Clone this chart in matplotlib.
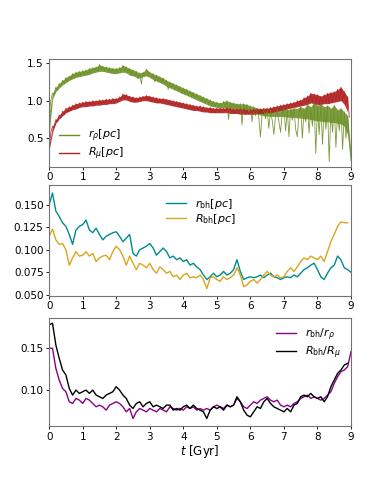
import numpy as np
import matplotlib
matplotlib.use("Agg")
import matplotlib.pyplot as plt

# ---------- DATA ----------
# panel 1: noisy radii, sampled every 0.05 Gyr (spikes included)
r_rho = [0.82, 1.00, 1.10, 1.09, 1.18, 1.14, 1.23, 1.19, 1.27, 1.22,
         1.31, 1.25, 1.33, 1.28, 1.36, 1.30, 1.38, 1.32, 1.39, 1.33,
         1.40, 1.34, 1.41, 1.35, 1.43, 1.36, 1.44, 1.38, 1.45, 1.39,
         1.48, 1.40, 1.46, 1.39, 1.45, 1.38, 1.44, 1.37, 1.43, 1.36,
         1.43, 1.37, 1.44, 1.39, 1.47, 1.39, 1.45, 1.37, 1.43, 1.33,
         1.41, 1.33, 1.39, 1.29, 1.37, 1.22, 1.38, 1.33, 1.42, 1.32,
         1.38, 1.30, 1.36, 1.25, 1.34, 1.26, 1.32, 1.24, 1.30, 1.22,
         1.27, 1.15, 1.25, 1.17, 1.23, 1.15, 1.21, 1.13, 1.19, 1.10,
         1.17, 1.09, 1.15, 1.07, 1.13, 1.05, 1.11, 1.03, 1.09, 1.01,
         1.07, 0.99, 1.05, 0.97, 1.03, 0.95, 1.01, 0.93, 0.99, 0.92,
         0.98, 0.91, 0.97, 0.92, 0.99, 0.92, 1.00, 0.75, 0.98, 0.90,
         0.97, 0.89, 0.96, 0.88, 0.96, 0.68, 0.96, 0.87, 0.95, 0.84,
         0.93, 0.72, 0.92, 0.80, 0.90, 0.78, 0.52, 0.82, 0.89, 0.76,
         0.88, 0.63, 0.87, 0.74, 0.55, 0.80, 0.88, 0.72, 0.58, 0.84,
         0.90, 0.60, 0.88, 0.52, 0.89, 0.74, 0.90, 0.62, 0.52, 0.85,
         0.92, 0.50, 0.88, 0.72, 0.95, 0.57, 0.90, 0.66, 0.98, 0.30,
         0.92, 0.55, 0.95, 0.42, 0.90, 0.62, 0.93, 0.19, 0.88, 0.58,
         0.94, 0.38, 0.87, 0.60, 0.90, 0.35, 0.85, 0.50, 0.80, 0.45,
         0.20]
R_mu = [0.36, 0.58, 0.66, 0.64, 0.75, 0.72, 0.81, 0.77, 0.86, 0.81,
        0.90, 0.85, 0.92, 0.87, 0.94, 0.89, 0.96, 0.90, 0.97, 0.92,
        0.98, 0.93, 0.99, 0.93, 0.99, 0.94, 1.00, 0.94, 1.00, 0.95,
        1.01, 0.95, 1.01, 0.96, 1.02, 0.96, 1.02, 0.97, 1.03, 0.97,
        1.03, 0.99, 1.05, 1.01, 1.09, 1.02, 1.08, 1.01, 1.06, 0.99,
        1.05, 0.98, 1.04, 0.99, 1.05, 1.00, 1.06, 1.01, 1.07, 1.00,
        1.06, 0.99, 1.05, 0.98, 1.04, 0.97, 1.03, 0.97, 1.03, 0.96,
        1.02, 0.95, 1.01, 0.94, 1.00, 0.93, 0.99, 0.92, 0.98, 0.91,
        0.97, 0.90, 0.96, 0.89, 0.95, 0.88, 0.94, 0.87, 0.93, 0.87,
        0.93, 0.86, 0.92, 0.85, 0.91, 0.85, 0.91, 0.84, 0.90, 0.84,
        0.90, 0.84, 0.90, 0.84, 0.90, 0.85, 0.91, 0.84, 0.90, 0.83,
        0.89, 0.83, 0.89, 0.83, 0.89, 0.82, 0.89, 0.82, 0.88, 0.82,
        0.88, 0.82, 0.89, 0.83, 0.89, 0.83, 0.89, 0.83, 0.90, 0.84,
        0.90, 0.84, 0.91, 0.85, 0.92, 0.86, 0.93, 0.87, 0.94, 0.88,
        0.95, 0.89, 0.96, 0.90, 0.97, 0.91, 0.98, 0.92, 1.00, 0.93,
        1.01, 0.94, 1.04, 0.95, 1.06, 0.97, 1.10, 0.98, 1.09, 0.96,
        1.08, 0.95, 1.06, 0.96, 1.08, 0.97, 1.10, 0.96, 1.11, 0.98,
        1.12, 0.99, 1.15, 1.00, 1.18, 1.01, 1.12, 0.95, 1.05, 0.78]

# panel 1: the dense part of each noisy band (lower / upper edge every 0.1 Gyr)
rho_lo = [0.55, 1.02, 1.12, 1.17, 1.21, 1.24, 1.27, 1.29, 1.31, 1.32,
          1.33, 1.34, 1.35, 1.37, 1.38, 1.39, 1.39, 1.38, 1.37, 1.36,
          1.36, 1.37, 1.38, 1.37, 1.34, 1.33, 1.31, 1.30, 1.32, 1.33,
          1.31, 1.28, 1.26, 1.24, 1.22, 1.19, 1.17, 1.15, 1.13, 1.11,
          1.09, 1.07, 1.05, 1.03, 1.01, 0.99, 0.97, 0.95, 0.93, 0.92,
          0.91, 0.90, 0.91, 0.91, 0.90, 0.89, 0.88, 0.87, 0.86, 0.85,
          0.84, 0.83, 0.82, 0.81, 0.80, 0.80, 0.79, 0.79, 0.79, 0.79,
          0.79, 0.78, 0.78, 0.78, 0.77, 0.77, 0.76, 0.76, 0.75, 0.74,
          0.73, 0.73, 0.72, 0.72, 0.71, 0.71, 0.70, 0.69, 0.66, 0.55,
          0.20]
rho_hi = [0.84, 1.10, 1.18, 1.23, 1.27, 1.31, 1.33, 1.36, 1.38, 1.39,
          1.40, 1.41, 1.43, 1.44, 1.45, 1.48, 1.46, 1.45, 1.44, 1.43,
          1.43, 1.44, 1.47, 1.45, 1.43, 1.41, 1.39, 1.37, 1.38, 1.42,
          1.38, 1.36, 1.34, 1.32, 1.30, 1.27, 1.25, 1.23, 1.21, 1.19,
          1.17, 1.15, 1.13, 1.11, 1.09, 1.07, 1.05, 1.03, 1.01, 0.99,
          0.98, 0.97, 0.99, 1.00, 0.98, 0.97, 0.96, 0.96, 0.96, 0.95,
          0.93, 0.92, 0.90, 0.90, 0.89, 0.88, 0.87, 0.88, 0.88, 0.89,
          0.90, 0.88, 0.89, 0.90, 0.90, 0.92, 0.90, 0.95, 0.92, 0.98,
          0.94, 0.96, 0.92, 0.94, 0.90, 0.94, 0.88, 0.90, 0.85, 0.80,
          0.30]
mu_lo = [0.34, 0.58, 0.70, 0.76, 0.80, 0.84, 0.86, 0.88, 0.89, 0.91,
         0.92, 0.92, 0.93, 0.93, 0.94, 0.94, 0.95, 0.95, 0.96, 0.96,
         0.97, 0.99, 1.01, 1.01, 0.99, 0.98, 0.98, 0.99, 1.00, 1.00,
         0.99, 0.98, 0.97, 0.97, 0.96, 0.95, 0.94, 0.93, 0.92, 0.91,
         0.90, 0.89, 0.88, 0.87, 0.87, 0.86, 0.85, 0.85, 0.84, 0.84,
         0.84, 0.84, 0.84, 0.84, 0.83, 0.83, 0.83, 0.82, 0.82, 0.82,
         0.82, 0.82, 0.83, 0.83, 0.83, 0.84, 0.84, 0.85, 0.86, 0.87,
         0.88, 0.89, 0.90, 0.91, 0.92, 0.93, 0.94, 0.95, 0.97, 0.96,
         0.95, 0.95, 0.96, 0.96, 0.97, 0.98, 0.99, 1.00, 0.95, 0.85]
mu_hi = [0.42, 0.66, 0.75, 0.81, 0.86, 0.90, 0.92, 0.94, 0.96, 0.97,
         0.98, 0.99, 0.99, 1.00, 1.00, 1.01, 1.01, 1.02, 1.02, 1.03,
         1.03, 1.05, 1.09, 1.08, 1.06, 1.05, 1.04, 1.05, 1.06, 1.07,
         1.06, 1.05, 1.04, 1.03, 1.03, 1.02, 1.01, 1.00, 0.99, 0.98,
         0.97, 0.96, 0.95, 0.94, 0.93, 0.93, 0.92, 0.91, 0.91, 0.90,
         0.90, 0.90, 0.90, 0.91, 0.90, 0.89, 0.89, 0.89, 0.89, 0.88,
         0.88, 0.89, 0.89, 0.89, 0.90, 0.90, 0.91, 0.92, 0.93, 0.94,
         0.95, 0.96, 0.97, 0.98, 1.00, 1.01, 1.04, 1.06, 1.10, 1.09,
         1.08, 1.06, 1.08, 1.10, 1.11, 1.12, 1.15, 1.18, 1.12, 1.05]

# panel 2: black hole subsystem radii, every 0.1 Gyr
r_bh = [0.150, 0.163, 0.143, 0.137, 0.130, 0.126, 0.117, 0.106, 0.122, 0.126,
        0.128, 0.133, 0.122, 0.119, 0.124, 0.117, 0.111, 0.115, 0.117, 0.119,
        0.120, 0.115, 0.109, 0.113, 0.117, 0.096, 0.093, 0.100, 0.102, 0.104,
        0.107, 0.102, 0.094, 0.098, 0.102, 0.098, 0.091, 0.093, 0.089, 0.091,
        0.087, 0.089, 0.083, 0.085, 0.081, 0.078, 0.072, 0.067, 0.070, 0.074,
        0.070, 0.072, 0.076, 0.072, 0.074, 0.078, 0.089, 0.076, 0.067, 0.069,
        0.070, 0.069, 0.070, 0.072, 0.069, 0.072, 0.074, 0.070, 0.069, 0.067,
        0.069, 0.070, 0.069, 0.072, 0.070, 0.074, 0.078, 0.080, 0.083, 0.085,
        0.078, 0.070, 0.067, 0.074, 0.080, 0.083, 0.093, 0.089, 0.080, 0.078,
        0.075]
R_bh = [0.115, 0.123, 0.111, 0.106, 0.107, 0.100, 0.083, 0.091, 0.098, 0.093,
        0.094, 0.098, 0.093, 0.096, 0.087, 0.091, 0.093, 0.094, 0.089, 0.098,
        0.104, 0.100, 0.093, 0.083, 0.093, 0.085, 0.078, 0.085, 0.083, 0.080,
        0.085, 0.078, 0.074, 0.081, 0.078, 0.074, 0.076, 0.070, 0.072, 0.067,
        0.072, 0.074, 0.069, 0.070, 0.069, 0.072, 0.067, 0.057, 0.069, 0.070,
        0.067, 0.065, 0.070, 0.067, 0.069, 0.072, 0.080, 0.072, 0.059, 0.061,
        0.065, 0.067, 0.063, 0.067, 0.072, 0.076, 0.072, 0.070, 0.072, 0.069,
        0.070, 0.076, 0.080, 0.076, 0.081, 0.087, 0.091, 0.089, 0.093, 0.091,
        0.089, 0.093, 0.087, 0.098, 0.109, 0.117, 0.126, 0.131, 0.130, 0.130]

# panel 3: ratios, every 0.1 Gyr
ratio_r = [0.150, 0.150, 0.126, 0.112, 0.102, 0.098, 0.086, 0.084, 0.090, 0.088,
           0.084, 0.090, 0.088, 0.084, 0.080, 0.082, 0.080, 0.076, 0.082, 0.084,
           0.086, 0.084, 0.080, 0.074, 0.078, 0.066, 0.074, 0.078, 0.076, 0.074,
           0.078, 0.076, 0.074, 0.078, 0.076, 0.074, 0.080, 0.078, 0.076, 0.078,
           0.076, 0.080, 0.078, 0.080, 0.076, 0.078, 0.076, 0.078, 0.076, 0.080,
           0.082, 0.080, 0.078, 0.082, 0.080, 0.082, 0.090, 0.086, 0.080, 0.078,
           0.082, 0.086, 0.084, 0.088, 0.090, 0.092, 0.088, 0.086, 0.088, 0.082,
           0.080, 0.082, 0.080, 0.084, 0.086, 0.090, 0.092, 0.094, 0.090, 0.092,
           0.090, 0.088, 0.090, 0.094, 0.098, 0.108, 0.116, 0.122, 0.124, 0.128,
           0.146]
ratio_R = [0.178, 0.180, 0.154, 0.138, 0.124, 0.118, 0.102, 0.094, 0.100, 0.096,
           0.098, 0.100, 0.096, 0.100, 0.094, 0.092, 0.090, 0.094, 0.096, 0.098,
           0.104, 0.100, 0.094, 0.090, 0.082, 0.078, 0.084, 0.086, 0.080, 0.084,
           0.086, 0.080, 0.082, 0.080, 0.078, 0.082, 0.082, 0.076, 0.078, 0.076,
           0.080, 0.082, 0.078, 0.082, 0.078, 0.076, 0.074, 0.066, 0.076, 0.080,
           0.078, 0.080, 0.076, 0.082, 0.080, 0.082, 0.092, 0.086, 0.076, 0.070,
           0.068, 0.074, 0.080, 0.078, 0.086, 0.090, 0.084, 0.080, 0.078, 0.076,
           0.074, 0.078, 0.074, 0.082, 0.084, 0.092, 0.094, 0.092, 0.096, 0.092,
           0.090, 0.092, 0.086, 0.092, 0.104, 0.112, 0.120, 0.124, 0.130, 0.132]

t_rho = np.arange(len(r_rho)) * 0.05
t_mu = np.arange(len(R_mu)) * 0.05
t_rho_env = np.arange(len(rho_lo)) * 0.1
t_mu_env = np.arange(len(mu_lo)) * 0.1
t2 = np.arange(len(r_bh)) * 0.1
t2b = np.arange(len(R_bh)) * 0.1
t3 = np.arange(len(ratio_r)) * 0.1
t3b = np.arange(len(ratio_R)) * 0.1

# ---------- PLOT ----------
fig = plt.figure(figsize=(3.9, 4.88), dpi=100)
ax1 = fig.add_axes([0.126, 0.658, 0.774, 0.222])
ax2 = fig.add_axes([0.126, 0.394, 0.774, 0.227])
ax3 = fig.add_axes([0.126, 0.127, 0.774, 0.221])

leg_kw = dict(frameon=False, fontsize=8, handlelength=1.8,
              handletextpad=0.8, labelspacing=0.15)

green, red = 'olivedrab', 'firebrick'
ax1.fill_between(t_rho_env, rho_lo, rho_hi, color=green, alpha=0.85, lw=0)
ax1.plot(t_rho, r_rho, color=green, lw=0.6, alpha=0.9, label=r'$r_\rho[pc]$')
ax1.fill_between(t_mu_env, mu_lo, mu_hi, color=red, alpha=0.9, lw=0)
ax1.plot(t_mu, R_mu, color=red, lw=0.6, alpha=0.9, label=r'$R_\mu[pc]$')
ax1.set_ylim(0.12, 1.56)
ax1.set_yticks([0.5, 1.0, 1.5])
leg1 = ax1.legend(loc='lower left', bbox_to_anchor=(0.0, -0.05), **leg_kw)
for h in leg1.get_lines():
    h.set_linewidth(1.0)
    h.set_alpha(1.0)

ax2.plot(t2, r_bh, color='darkcyan', lw=1.0, label=r'$r_{\rm bh}[pc]$')
ax2.plot(t2b, R_bh, color='goldenrod', lw=1.0, label=r'$R_{\rm bh}[pc]$')
ax2.set_ylim(0.049, 0.172)
ax2.set_yticks([0.050, 0.075, 0.100, 0.125, 0.150])
ax2.legend(loc='upper center', bbox_to_anchor=(0.503, 0.985), **leg_kw)

ax3.plot(t3, ratio_r, color='darkmagenta', lw=1.0, label=r'$r_{\rm bh}/r_\rho$')
ax3.plot(t3b, ratio_R, color='black', lw=1.0, label=r'$R_{\rm bh}/R_\mu$')
ax3.set_ylim(0.057, 0.186)
ax3.set_yticks([0.10, 0.15])
ax3.legend(loc='upper right', bbox_to_anchor=(1.0, 1.015), **leg_kw)
ax3.set_xlabel(r'$t$ [Gyr]', fontsize=8.5, labelpad=1)

for ax in (ax1, ax2, ax3):
    ax.set_xlim(0, 9)
    ax.set_xticks(range(10))
    ax.tick_params(labelsize=7.5, length=2.5, width=0.6, pad=1.5)
    for sp in ax.spines.values():
        sp.set_color('0.45')
        sp.set_linewidth(0.8)

fig.savefig('out.png', dpi=100)
